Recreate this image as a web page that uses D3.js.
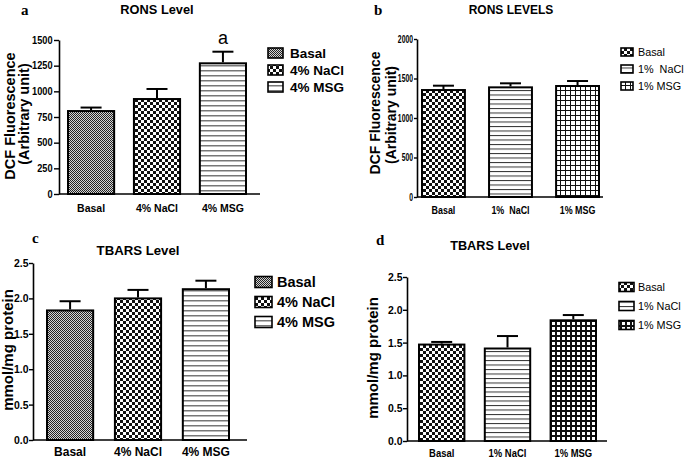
<!DOCTYPE html>
<html>
<head>
<meta charset="utf-8">
<script src="https://cdn.jsdelivr.net/npm/d3@7"></script>
<style>
  html, body { margin: 0; padding: 0; background: #fff; }
  svg { display: block; }
  text { font-family: "Liberation Sans", Arial, sans-serif; }
</style>
</head>
<body>
<svg id="chart" width="685" height="459"></svg>
<script>
// ---------- DATA ----------
const categoriesA = ["Basal", "4% NaCl", "4% MSG"];
const ronsA = [808, 925, 1273];
const ronsAErr = [34, 98, 113];
const ronsASig = ["", "", "a"];
const ticksA = [0, 250, 500, 750, 1000, 1250, 1500];

const categoriesB = ["Basal", "1%  NaCl", "1% MSG"];
const ronsB = [1354, 1388, 1405];
const ronsBErr = [55, 51, 63];
const ticksB = [0, 500, 1000, 1500, 2000];

const categoriesC = ["Basal", "4% NaCl", "4% MSG"];
const tbarsC = [1.83, 2.00, 2.13];
const tbarsCErr = [0.13, 0.12, 0.12];
const ticksC = [0, 0.5, 1.0, 1.5, 2.0, 2.5];

const categoriesD = ["Basal", "1% NaCl", "1% MSG"];
const tbarsD = [1.47, 1.41, 1.84];
const tbarsDErr = [0.04, 0.19, 0.08];
const ticksD = [0, 0.5, 1.0, 1.5, 2.0, 2.5];

// ---------- SVG / PATTERNS ----------
const svg = d3.select("#chart");
svg.append("rect").attr("width", 685).attr("height", 459).attr("fill", "#fff");
const defs = svg.append("defs");

function pat(id, w, h) {
  return defs.append("pattern").attr("id", id)
    .attr("patternUnits", "userSpaceOnUse").attr("width", w).attr("height", h);
}
let p = pat("fineGray", 2, 2);
p.append("rect").attr("width", 2).attr("height", 2).attr("fill", "#d4d4d4");
p.append("rect").attr("x", 0).attr("y", 0).attr("width", 1).attr("height", 1).attr("fill", "#222");
p.append("rect").attr("x", 1).attr("y", 1).attr("width", 1).attr("height", 1).attr("fill", "#222");
p = pat("check3", 6, 6);
p.append("rect").attr("width", 6).attr("height", 6).attr("fill", "#fff");
p.append("rect").attr("x", 0).attr("y", 0).attr("width", 3).attr("height", 3).attr("fill", "#111");
p.append("rect").attr("x", 3).attr("y", 3).attr("width", 3).attr("height", 3).attr("fill", "#111");
p = pat("hGray", 10, 5);
p.append("rect").attr("width", 10).attr("height", 5).attr("fill", "#fff");
p.append("rect").attr("y", 0).attr("width", 10).attr("height", 1.5).attr("fill", "#777");
p = pat("hBlack", 10, 4.5);
p.append("rect").attr("width", 10).attr("height", 4.5).attr("fill", "#fff");
p.append("rect").attr("y", 0).attr("width", 10).attr("height", 1).attr("fill", "#333");
p = pat("gridLight", 5, 5);
p.append("rect").attr("width", 5).attr("height", 5).attr("fill", "#111");
p.append("rect").attr("x", 1).attr("y", 1).attr("width", 4).attr("height", 4).attr("fill", "#fff");
p = pat("gridHeavy", 5, 5);
p.append("rect").attr("width", 5).attr("height", 5).attr("fill", "#111");
p.append("rect").attr("x", 2).attr("y", 2).attr("width", 3).attr("height", 3).attr("fill", "#fff");

// horizontally condense text (narrow-font look)
function condense(sel, f) {
  if (!f || f === 1) return;
  sel.each(function () {
    const w = this.getComputedTextLength();
    d3.select(this).attr("textLength", w * f).attr("lengthAdjust", "spacingAndGlyphs");
  });
}

// ---------- PANEL DRAWER ----------
function drawPanel(cfg) {
  const g = svg.append("g");
  const x = d3.scaleBand().domain(cfg.cats).range([cfg.bx0, cfg.bx1])
    .paddingInner(cfg.pad).paddingOuter(0);
  const y = d3.scaleLinear().domain([0, cfg.ymax]).range([cfg.y0, cfg.y1]);
  const bw = x.bandwidth();

  // y axis
  const ax = g.append("g").attr("transform", `translate(${cfg.ax},0)`)
    .call(d3.axisLeft(y).tickValues(cfg.ticks).tickSize(cfg.tickLen).tickSizeOuter(0)
      .tickPadding(cfg.tickPad).tickFormat(cfg.fmt));
  ax.select(".domain").attr("stroke", "#000").attr("stroke-width", 1.6);
  ax.selectAll(".tick line").attr("stroke", "#000").attr("stroke-width", 1.4);
  const tt = ax.selectAll(".tick text").attr("fill", "#000")
    .style("font-family", "'Liberation Sans', Arial, sans-serif")
    .style("font-weight", "bold").style("font-size", cfg.tickFs + "px");
  condense(tt, cfg.tickCond);

  // x axis line
  g.append("line").attr("x1", cfg.ax).attr("x2", cfg.axEnd)
    .attr("y1", y(0)).attr("y2", y(0)).attr("stroke", "#000").attr("stroke-width", 1.6);

  // bars
  g.selectAll("rect.bar").data(cfg.cats).enter().append("rect")
    .attr("class", "bar")
    .attr("x", d => x(d)).attr("width", bw)
    .attr("y", (d, i) => y(cfg.vals[i]))
    .attr("height", (d, i) => y(0) - y(cfg.vals[i]))
    .attr("fill", (d, i) => `url(#${cfg.pats[i]})`)
    .attr("stroke", "#000").attr("stroke-width", 2);

  // error bars (upper only)
  const capW = 21;
  cfg.cats.forEach((c, i) => {
    const cx = x(c) + bw / 2;
    const top = y(cfg.vals[i] + cfg.errs[i]);
    g.append("line").attr("x1", cx).attr("x2", cx)
      .attr("y1", y(cfg.vals[i]) - 1).attr("y2", top)
      .attr("stroke", "#000").attr("stroke-width", 2);
    g.append("line").attr("x1", cx - capW / 2).attr("x2", cx + capW / 2)
      .attr("y1", top).attr("y2", top)
      .attr("stroke", "#000").attr("stroke-width", 2);
    if (cfg.sig && cfg.sig[i]) {
      g.append("text").attr("x", cx).attr("y", top - 8)
        .attr("text-anchor", "middle").style("font-size", "18px").text(cfg.sig[i]);
    }
  });

  // x labels
  const xl = g.selectAll("text.xl").data(cfg.cats).enter().append("text")
    .attr("class", "xl")
    .attr("x", d => x(d) + bw / 2).attr("y", cfg.xlY)
    .attr("text-anchor", "middle")
    .style("font-weight", "bold").style("font-size", cfg.xlFs + "px")
    .style("white-space", "pre")
    .text(d => d);
  condense(xl, cfg.xlCond);

  // title
  g.append("text").attr("x", cfg.titleX).attr("y", cfg.titleY)
    .attr("text-anchor", "middle").style("font-weight", "bold")
    .style("font-size", cfg.titleFs + "px").text(cfg.title);

  // panel letter
  g.append("text").attr("x", cfg.letterX).attr("y", cfg.letterY)
    .style("font-family", "'Liberation Serif', 'Times New Roman', serif")
    .style("font-weight", "bold").style("font-size", "15px").text(cfg.letter);

  // y titles
  cfg.yTitles.forEach(t => {
    g.append("text")
      .attr("transform", `translate(${t.x},${t.y}) rotate(-90)`)
      .attr("text-anchor", "middle").attr("dy", "0.35em")
      .style("font-weight", "bold").style("font-size", cfg.yTitleFs + "px")
      .text(t.text);
  });

  // legend
  const L = cfg.legend;
  cfg.cats.forEach((c, i) => {
    const cy = L.y0 + i * L.dy;
    g.append("rect").attr("x", L.x).attr("y", cy - L.h / 2)
      .attr("width", L.w).attr("height", L.h)
      .attr("fill", `url(#${cfg.pats[i]})`)
      .attr("stroke", "#000").attr("stroke-width", 1.6);
    const lt = g.append("text").attr("x", L.tx).attr("y", cy).attr("dy", "0.36em")
      .style("font-weight", L.bold ? "bold" : "normal")
      .style("font-size", L.fs + "px")
      .style("white-space", "pre")
      .text(c);
    condense(lt, L.cond);
  });
}

// ---------- PANELS ----------
drawPanel({
  cats: categoriesA, vals: ronsA, errs: ronsAErr, sig: ronsASig, ticks: ticksA,
  ymax: 1500, y0: 194, y1: 40, ax: 59, axEnd: 260, bx0: 68, bx1: 246, pad: 0.30,
  fmt: d3.format("d"), tickFs: 10, tickLen: 5, tickPad: 1.5, tickCond: 0.92,
  xlY: 212, xlFs: 10.5,
  pats: ["fineGray", "check3", "hGray"],
  title: "RONS Level", titleX: 157, titleY: 14, titleFs: 12.8,
  letter: "a", letterX: 21, letterY: 15,
  yTitleFs: 14.5,
  yTitles: [{ text: "DCF Fluorescence", x: 10, y: 116 }, { text: "(Arbitrary unit)", x: 24, y: 114 }],
  legend: { x: 268, w: 15, h: 10, y0: 53, dy: 17, tx: 290, fs: 13.5, bold: true }
});

drawPanel({
  cats: categoriesB, vals: ronsB, errs: ronsBErr, ticks: ticksB,
  ymax: 2000, y0: 197, y1: 39, ax: 417, axEnd: 603, bx0: 422, bx1: 599, pad: 0.36,
  fmt: d3.format("d"), tickFs: 10, tickLen: 3, tickPad: 1, tickCond: 0.68,
  xlY: 214, xlFs: 10.5, xlCond: 0.85,
  pats: ["check3", "hBlack", "gridLight"],
  title: "RONS LEVELS", titleX: 511, titleY: 14, titleFs: 12,
  letter: "b", letterX: 374, letterY: 15,
  yTitleFs: 14,
  yTitles: [{ text: "DCF Fluorescence", x: 375, y: 113 }, { text: "(Arbitrary unit)", x: 391, y: 115 }],
  legend: { x: 621, w: 12, h: 8, y0: 52, dy: 17, tx: 638, fs: 10.8, bold: false }
});

drawPanel({
  cats: categoriesC, vals: tbarsC, errs: tbarsCErr, ticks: ticksC,
  ymax: 2.5, y0: 440, y1: 263, ax: 33, axEnd: 247, bx0: 47, bx1: 229, pad: 0.32,
  fmt: d3.format(".1f"), tickFs: 11, tickLen: 4, tickPad: 0.5, tickCond: 0.95,
  xlY: 456, xlFs: 12,
  pats: ["fineGray", "check3", "hGray"],
  title: "TBARS Level", titleX: 138, titleY: 255, titleFs: 13.2,
  letter: "c", letterX: 32, letterY: 243,
  yTitleFs: 15,
  yTitles: [{ text: "mmol/mg protein", x: 8, y: 350 }],
  legend: { x: 255, w: 17, h: 11, y0: 282, dy: 20, tx: 277, fs: 14.5, bold: true }
});

drawPanel({
  cats: categoriesD, vals: tbarsD, errs: tbarsDErr, ticks: ticksD,
  ymax: 2.5, y0: 441, y1: 277, ax: 407, axEnd: 607, bx0: 419, bx1: 596, pad: 0.31,
  fmt: d3.format(".1f"), tickFs: 11, tickLen: 4, tickPad: 0.5, tickCond: 0.95,
  xlY: 457, xlFs: 10.5, xlCond: 0.9,
  pats: ["check3", "hBlack", "gridHeavy"],
  title: "TBARS Level", titleX: 490, titleY: 250, titleFs: 12.7,
  letter: "d", letterX: 376, letterY: 245,
  yTitleFs: 15,
  yTitles: [{ text: "mmol/mg protein", x: 373, y: 358 }],
  legend: { x: 619, w: 15, h: 9, y0: 287, dy: 19, tx: 638, fs: 10.8, bold: false }
});
</script>
</body>
</html>
